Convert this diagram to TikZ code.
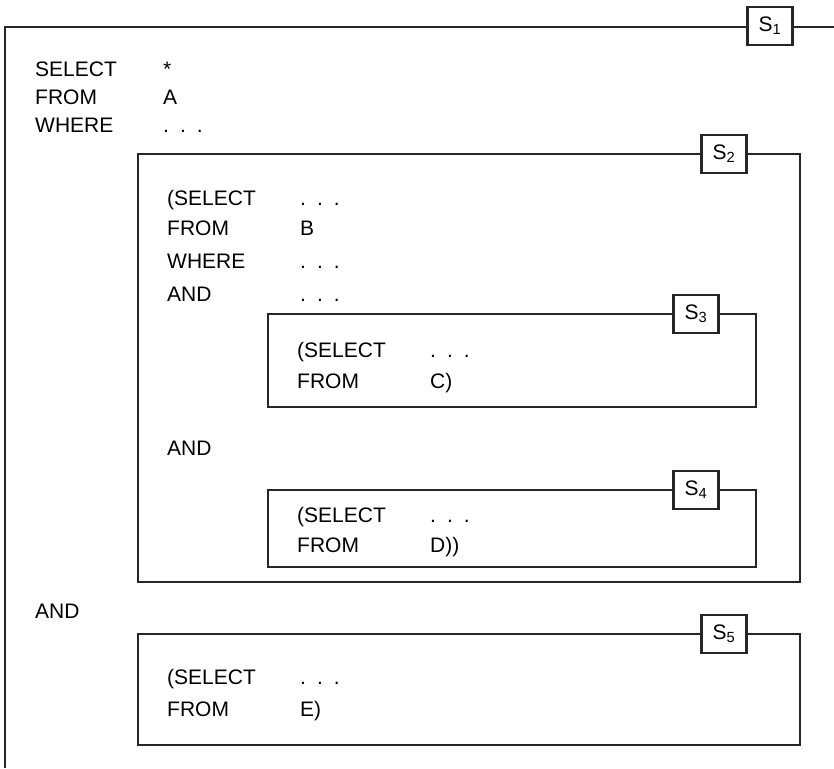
\documentclass[tikz,border=0pt]{standalone}
\usepackage{fontspec}
\setmainfont{Liberation Sans}
\newcommand{\elide}{.\hspace{11pt}.\hspace{11pt}.}
\begin{document}
\begin{tikzpicture}[x=1pt,y=-1pt,
  frame/.style={draw=black!85, line width=1.4pt},
  tag/.style={draw=black!85, line width=2.4pt, fill=white, minimum width=45pt,
    minimum height=38pt, inner sep=0pt, font=\fontsize{21}{25}\selectfont},
  kw/.style={anchor=base west, inner sep=0pt, font=\fontsize{21}{25}\selectfont}]
\useasboundingbox (0,0) rectangle (834,768);

% S1: outermost query, open at the right and bottom
\coordinate (s1bl) at (5,768);
\coordinate (s1tl) at (5,27);
\coordinate (s1tr) at (834,27);
\draw[frame] (s1bl) -- (s1tl) -- (s1tr);
\node[tag] (t1) at (770,26) {S\textsubscript{1}};

\node[kw] (a1) at (35,76)  {SELECT};
\node[kw] (a2) at (35,104) {FROM};
\node[kw] (a3) at (35,132) {WHERE};
\node[kw] (b1) at (163,76)  {*};
\node[kw] (b2) at (163,104) {A};
\node[kw] (b3) at (163,132) {\elide};

% S2
\draw[frame] (138,154) rectangle (800,582);
\node[tag] (t2) at (724,154) {S\textsubscript{2}};
\node[kw] (c1) at (167,205) {(SELECT};
\node[kw] (c2) at (167,235) {FROM};
\node[kw] (c3) at (167,268) {WHERE};
\node[kw] (c4) at (167,301) {AND};
\node[kw] (d1) at (300,205) {\elide};
\node[kw] (d2) at (300,235) {B};
\node[kw] (d3) at (300,268) {\elide};
\node[kw] (d4) at (300,301) {\elide};

% S3
\draw[frame] (268,314) rectangle (756,407);
\node[tag] (t3) at (696,314) {S\textsubscript{3}};
\node[kw] (e1) at (297,357) {(SELECT};
\node[kw] (e2) at (297,388) {FROM};
\node[kw] (f1) at (430,357) {\elide};
\node[kw] (f2) at (430,388) {C)};

\node[kw] (g1) at (167,455) {AND};

% S4
\draw[frame] (268,490) rectangle (756,567);
\node[tag] (t4) at (696,490) {S\textsubscript{4}};
\node[kw] (h1) at (297,522) {(SELECT};
\node[kw] (h2) at (297,552) {FROM};
\node[kw] (i1) at (430,522) {\elide};
\node[kw] (i2) at (430,552) {D))};

\node[kw] (j1) at (35,618) {AND};

% S5
\draw[frame] (138,634) rectangle (800,745);
\node[tag] (t5) at (724,634) {S\textsubscript{5}};
\node[kw] (k1) at (167,684) {(SELECT};
\node[kw] (k2) at (167,716) {FROM};
\node[kw] (l1) at (300,684) {\elide};
\node[kw] (l2) at (300,716) {E)};
\end{tikzpicture}
\end{document}
